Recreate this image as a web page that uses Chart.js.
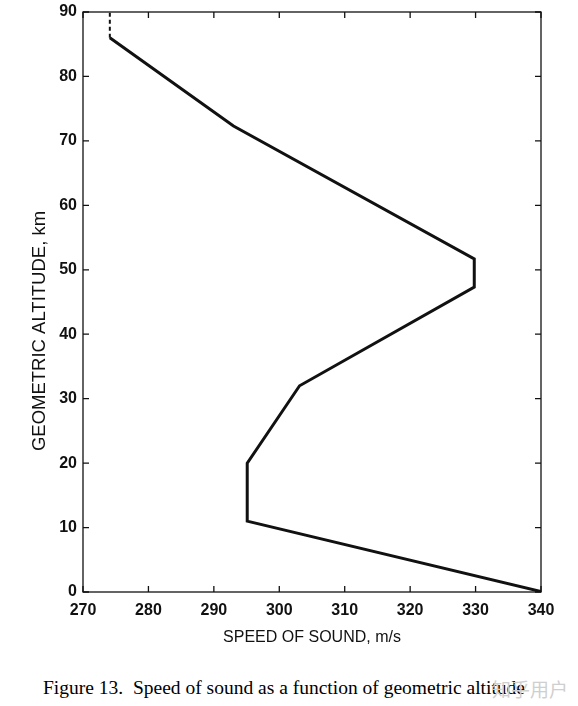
<!DOCTYPE html>
<html>
<head>
<meta charset="utf-8">
<script src="https://cdn.jsdelivr.net/npm/chart.js@4.4.0/dist/chart.umd.min.js"></script>
<style>
  body { margin: 0; background: #fff; }
  #wrap { position: relative; width: 578px; height: 706px; }
  #box { position: absolute; left: 0; top: 0; width: 578px; height: 660px; }
  #caption { position: absolute; left: 0; width: 568px; top: 677px; text-align: center;
    font-family: "Liberation Serif", "DejaVu Serif", serif; font-size: 19.5px; color: #000; white-space: nowrap; }
  #mark { position: absolute; left: 492px; top: 675px; font-family: "Noto Sans CJK SC", sans-serif;
    font-size: 19px; color: #cfcfcf; }
</style>
</head>
<body>
<div id="wrap">
  <div id="box"><canvas id="soundChart"></canvas></div>
  <div id="caption">Figure 13.&nbsp; Speed of sound as a function of geometric altitude</div>
  <div id="mark">知乎用户</div>
</div>
<script>
// speed of sound (m/s) vs geometric altitude (km)
const speed = [340.3, 295.1, 295.1, 303.1, 329.8, 329.8, 293.0, 274.1];
const altitude = [0, 11, 20, 32, 47.3, 51.7, 72.3, 86];
// dashed continuation above 86 km
const topSpeed = [274.1, 274.1];
const topAltitude = [86, 90];
const xTicks = [270, 280, 290, 300, 310, 320, 330, 340];
const yTicks = [0, 10, 20, 30, 40, 50, 60, 70, 80, 90];
const yTitle = 'GEOMETRIC ALTITUDE, km';

const tickFont = { family: "Liberation Sans, Arial, sans-serif", size: 16, weight: 'bold' };
const xTitleFont = { family: "Liberation Sans, Arial, sans-serif", size: 16 };

// ticks pointing into the plot on all four sides, plus the y title
const inwardTicks = {
    id: 'inwardTicks',
    afterDraw: (chart) => {
        const ctx = chart.ctx;
        const a = chart.chartArea;
        const xs = chart.scales.x, ys = chart.scales.y;
        const len = 6;
        ctx.save();
        ctx.strokeStyle = '#111';
        ctx.lineWidth = 1.3;
        ctx.strokeRect(a.left, a.top, a.right - a.left, a.bottom - a.top);
        ctx.beginPath();
        xTicks.forEach(v => {
            const px = xs.getPixelForValue(v);
            ctx.moveTo(px, a.bottom); ctx.lineTo(px, a.bottom - len);
            ctx.moveTo(px, a.top); ctx.lineTo(px, a.top + len);
        });
        yTicks.forEach(v => {
            const py = ys.getPixelForValue(v);
            ctx.moveTo(a.left, py); ctx.lineTo(a.left + len, py);
            ctx.moveTo(a.right, py); ctx.lineTo(a.right - len, py);
        });
        ctx.stroke();

        // y title sits a bit below the middle in the original
        ctx.translate(40, ys.getPixelForValue(40.5));
        ctx.rotate(-Math.PI / 2);
        ctx.font = '18.5px "Liberation Sans", Arial, sans-serif';
        ctx.fillStyle = '#111';
        ctx.textAlign = 'center';
        ctx.textBaseline = 'middle';
        ctx.fillText(yTitle, 0, 0);
        ctx.restore();
    }
};

const ctx = document.getElementById('soundChart').getContext('2d');
new Chart(ctx, {
    type: 'scatter',
    plugins: [inwardTicks],
    data: {
        datasets: [{
            data: speed.map((s, i) => ({ x: s, y: altitude[i] })),
            showLine: true,
            borderColor: '#111',
            borderWidth: 3,
            pointRadius: 0,
            tension: 0
        }, {
            data: topSpeed.map((s, i) => ({ x: s, y: topAltitude[i] })),
            showLine: true,
            borderColor: '#111',
            borderWidth: 2,
            borderDash: [4, 3],
            pointRadius: 0
        }]
    },
    options: {
        responsive: true,
        maintainAspectRatio: false,
        animation: false,
        layout: { padding: { top: 12, right: 37, left: 0, bottom: 0 } },
        plugins: { legend: { display: false }, tooltip: { enabled: false } },
        scales: {
            x: {
                type: 'linear', min: 270, max: 340,
                afterBuildTicks: (s) => { s.ticks = xTicks.map(v => ({ value: v })); },
                grid: { display: false },
                border: { display: false },
                ticks: { color: '#111', font: tickFont, padding: 1, maxRotation: 0 },
                title: { display: true, text: 'SPEED OF SOUND, m/s', color: '#111',
                    font: xTitleFont, padding: { top: 4, bottom: 13 } },
                afterFit: (s) => { s.height = 68; s.paddingLeft = 0; s.paddingRight = 0; }
            },
            y: {
                type: 'linear', min: 0, max: 90,
                afterBuildTicks: (s) => { s.ticks = yTicks.map(v => ({ value: v })); },
                grid: { display: false, drawTicks: false },
                border: { display: false },
                ticks: { color: '#111', font: tickFont, padding: 6 },
                afterFit: (s) => { s.width = 83; s.paddingTop = 0; s.paddingBottom = 0; }
            }
        }
    }
});
</script>
</body>
</html>
